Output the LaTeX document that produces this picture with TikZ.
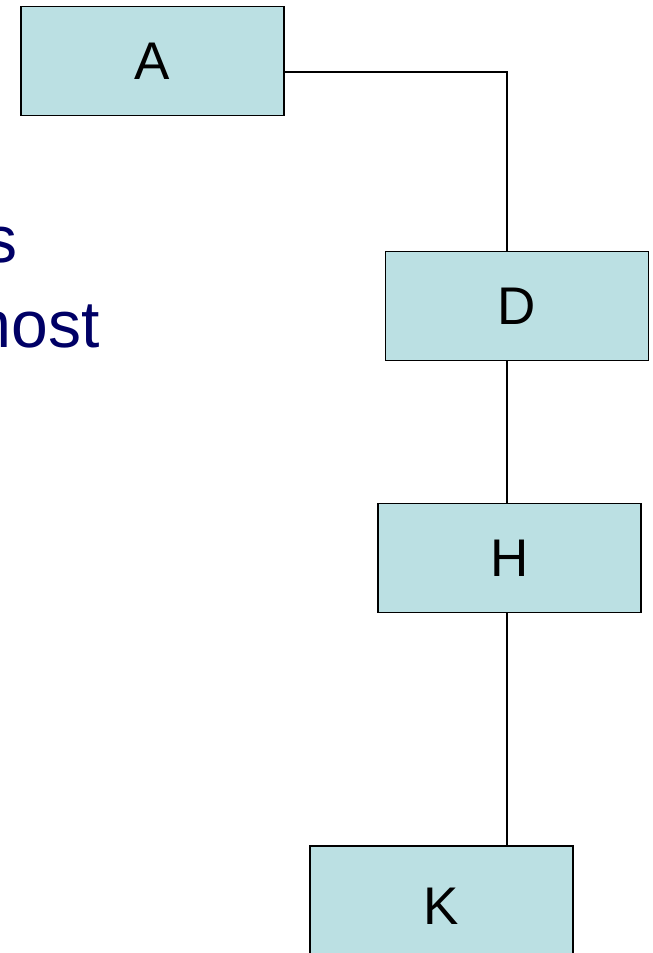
\documentclass[tikz,border=0pt]{standalone}
\usepackage{fontspec}
\setmainfont{Liberation Sans}
\definecolor{boxfill}{RGB}{187,224,227}
\definecolor{navytext}{RGB}{0,0,102}
\begin{document}
\begin{tikzpicture}[x=1pt,y=-1pt,
  box/.style={draw=black,line width=1.5pt,fill=boxfill,minimum width=263pt,minimum height=109pt,inner sep=0pt,font=\fontsize{53}{60}\selectfont},
  conn/.style={draw=black,line width=1.5pt},
  bigtext/.style={text=navytext,font=\fontsize{66}{72}\selectfont,inner sep=0pt,anchor=base east}]
\useasboundingbox (0,0) rectangle (653,953);
\clip (0,0) rectangle (653,953);
\node[box] (A) at (152.5,61) {A};
\node[box] (D) at (517,306) {D};
\node[box] (H) at (509.5,558) {H};
\node[box,minimum height=120pt] (K) at (441.5,906) {K\vphantom{A}\raisebox{0pt}[0pt][0pt]{}};
\coordinate (corner) at (507,72);
\draw[conn] (A.east |- corner) -- (corner) -- (D.north -| corner);
\draw[conn] (D.south -| corner) -- (H.north -| corner);
\draw[conn] (H.south -| corner) -- (K.north -| corner);
\node[bigtext] (t1) at (18,262) {s};
\node[bigtext] (t2) at (100,347) {most};
\end{tikzpicture}
\end{document}
